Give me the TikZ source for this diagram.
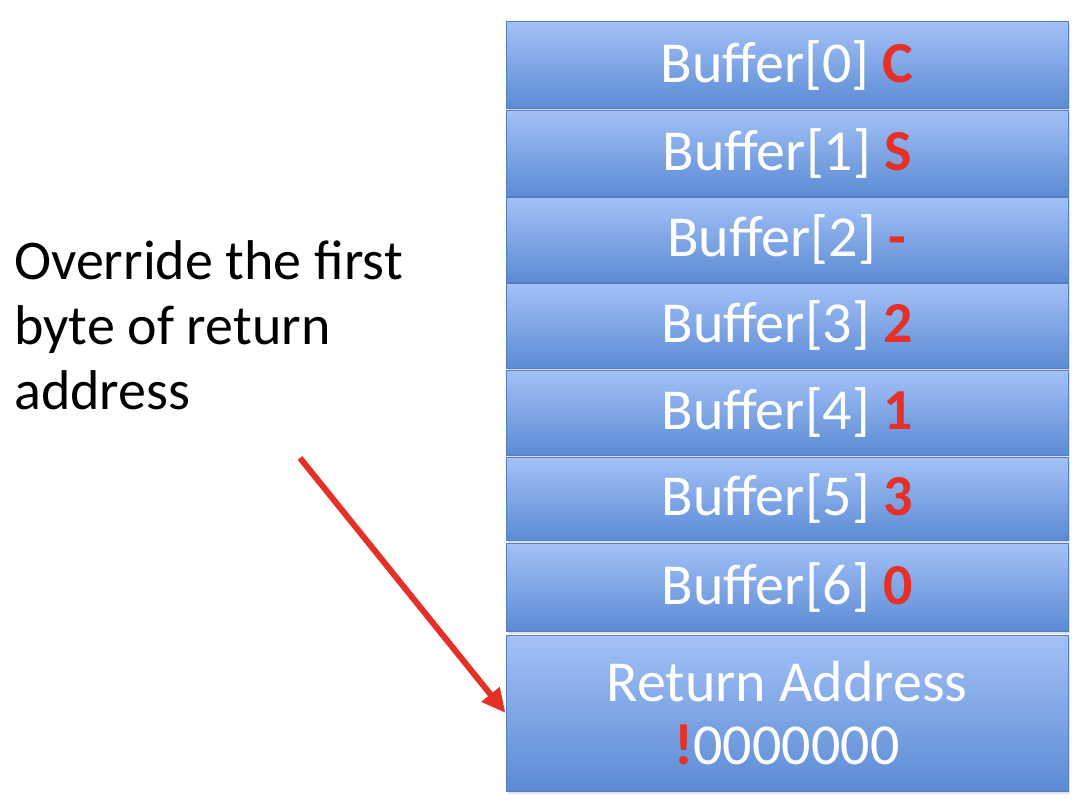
\documentclass[tikz,border=0pt]{standalone}
\usepackage{fontspec}
\setmainfont{Carlito}
\usetikzlibrary{arrows.meta,shadows}
\definecolor{celltop}{RGB}{163,193,247}
\definecolor{cellbot}{RGB}{92,139,212}
\definecolor{cellline}{RGB}{84,124,192}
\definecolor{hotred}{RGB}{228,48,38}
\tikzset{
  cell/.style={rectangle, draw=cellline, line width=1pt, top color=celltop, bottom color=cellbot,
    minimum width=562pt, inner sep=0pt, text=white, font=\fontsize{58}{63}\selectfont,
    align=center, drop shadow={shadow xshift=2pt, shadow yshift=-3pt, opacity=0.25}},
  hot/.style={text=hotred, font=\bfseries},
  pointer/.style={draw=hotred, line width=6pt, -{Triangle[length=24pt,width=22pt]}}
}
\newcommand{\hl}[1]{\textcolor{hotred}{\textbf{#1}}}
\begin{document}
\begin{tikzpicture}[x=1pt,y=-1pt]
  \useasboundingbox (0,0) rectangle (1084,808);
  % the stack, top to bottom
  \node[cell, minimum height=86pt] (b0) at (787,65) {Buffer[0] \hl{C}};
  \node[cell, minimum height=86pt] (b1) at (787,153) {Buffer[1] \hl{S}};
  \node[cell, minimum height=85pt] (b2) at (787,239.5) {Buffer[2] \hl{-}};
  \node[cell, minimum height=85pt] (b3) at (787,325.5) {Buffer[3] \hl{2}};
  \node[cell, minimum height=85pt] (b4) at (787,412.5) {Buffer[4] \hl{1}};
  \node[cell, minimum height=83pt] (b5) at (787,498.5) {Buffer[5] \hl{3}};
  \node[cell, minimum height=88pt] (b6) at (787,587) {Buffer[6] \hl{0}};
  \node[cell, minimum height=156pt] (ret) at (787,713) {Return Address\\\hl{!}0000000};
  % note on the left
  \node[anchor=north west, inner sep=0pt, align=left, font=\fontsize{56}{65}\selectfont] (note)
    at (14,240) {Override the first\\byte of return\\address};
  \coordinate (tail) at (300,458);
  \draw[pointer] (tail) -- (ret.west);
\end{tikzpicture}
\end{document}
